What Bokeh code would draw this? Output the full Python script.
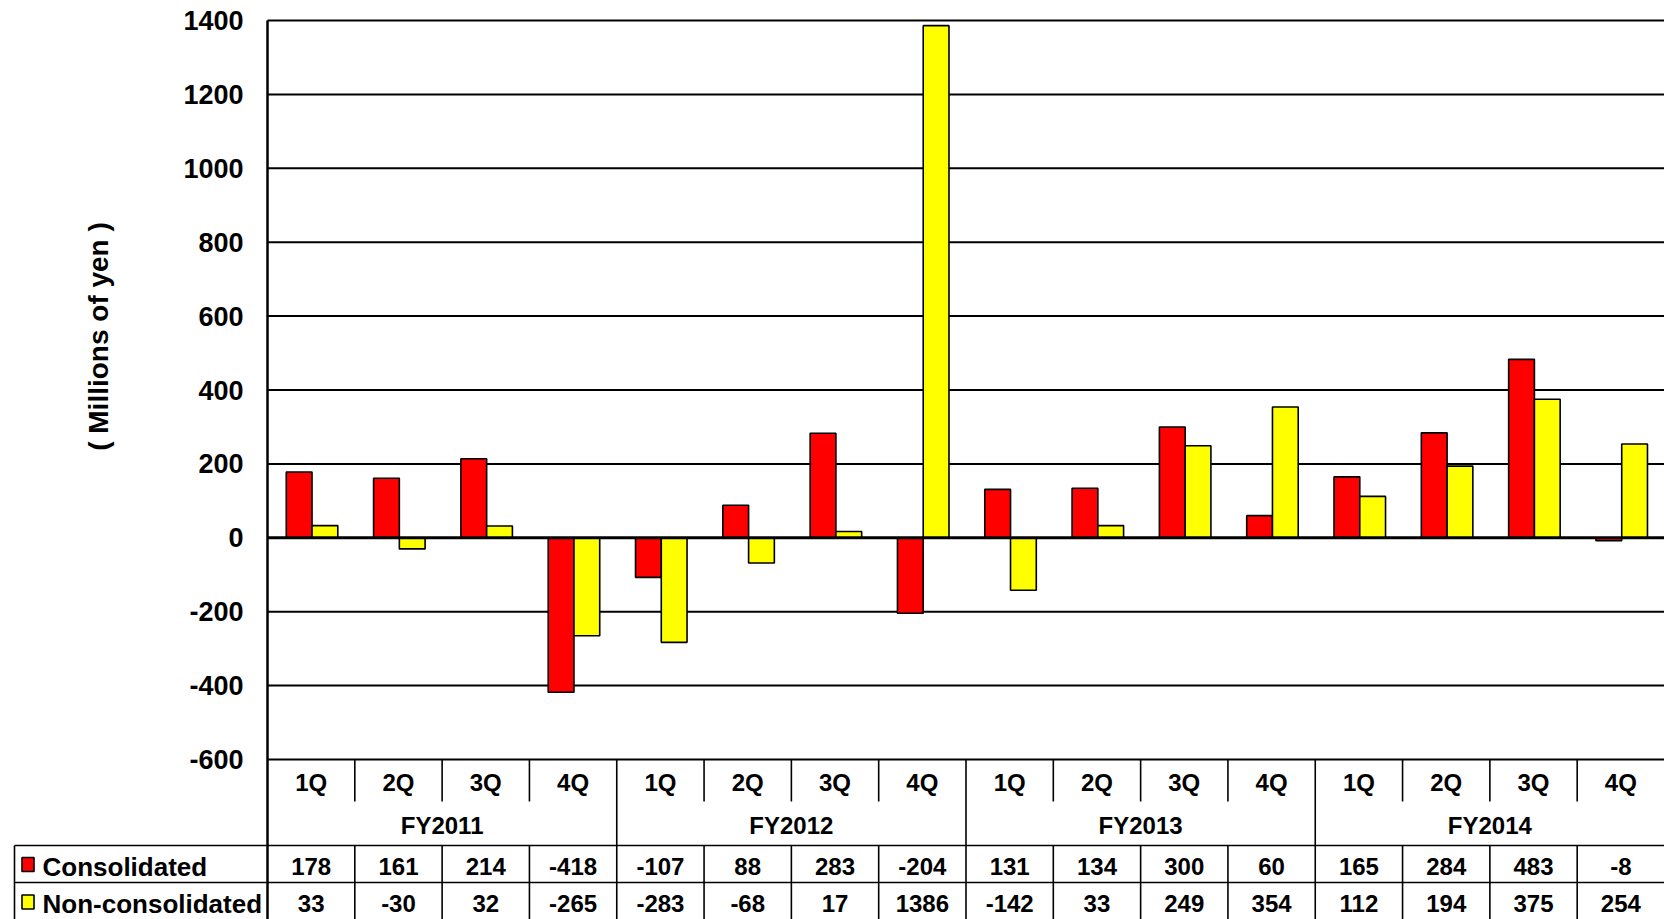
import numpy as np
from bokeh.plotting import figure
from bokeh.models import Range1d
from bokeh.core.properties import value
from bokeh.embed import file_html
from bokeh.resources import INLINE

# ---------------- data ----------------
years = ["FY2011", "FY2012", "FY2013", "FY2014"]
quarters = ["1Q", "2Q", "3Q", "4Q"]
consolidated = [178, 161, 214, -418, -107, 88, 283, -204, 131, 134, 300, 60, 165, 284, 483, -8]
non_consolidated = [33, -30, 32, -265, -283, -68, 17, 1386, -142, 33, 249, 354, 112, 194, 375, 254]
y_ticks = [1400, 1200, 1000, 800, 600, 400, 200, 0, -200, -400, -600]
series_names = ["Consolidated", "Non-consolidated"]
series_colors = ["#FF0000", "#FFFF00"]
y_label = "( Millions of yen )"

# ---------------- layout helpers (pixel -> data) ----------------
W, H = 1664, 919
PLOT_L, PLOT_T, PLOT_B = 267, 20, 759
YMAX, YMIN = max(y_ticks), min(y_ticks)
n = len(years) * len(quarters)
ppu_x = (W - PLOT_L) / n
ppu_y = (PLOT_B - PLOT_T) / (YMAX - YMIN)


def X(px):
    return (px - PLOT_L) / ppu_x


def Y(py):
    return YMAX - (py - PLOT_T) / ppu_y


FONT = value("Liberation Sans")

p = figure(width=W, height=H,
           x_range=Range1d(X(0), X(W)), y_range=Range1d(Y(H), Y(0)),
           x_axis_type=None, y_axis_type=None,
           toolbar_location=None, output_backend="svg",
           min_border=0, outline_line_color=None)
p.background_fill_color = "white"
p.border_fill_color = "white"

# ---------------- grid lines ----------------
grid = [t for t in y_ticks if t != 0]
p.segment(x0=[0] * len(grid), x1=[n] * len(grid), y0=grid, y1=grid,
          line_color="black", line_width=2)

# ---------------- bars ----------------
idx = np.arange(n)
bw = 0.295
p.vbar(x=idx + 0.51 - bw / 2, width=bw, top=consolidated, bottom=0,
       fill_color=series_colors[0], line_color="black", line_width=1.6)
p.vbar(x=idx + 0.51 + bw / 2, width=bw, top=non_consolidated, bottom=0,
       fill_color=series_colors[1], line_color="black", line_width=1.6)

# zero line
p.segment(x0=[0], x1=[n], y0=[0], y1=[0], line_color="black", line_width=3)

# left axis line (runs through the table)
p.segment(x0=[0], x1=[0], y0=[YMAX], y1=[Y(H)], line_color="black", line_width=2.5)

# ---------------- y tick labels & axis title ----------------
p.text(x=[X(243)] * len(y_ticks), y=y_ticks, text=[str(t) for t in y_ticks],
       text_font=FONT, text_font_style="bold", text_font_size="27px",
       text_align="right", text_baseline="middle", text_color="black")
p.text(x=[X(97.5)], y=[Y(336)], text=[y_label], angle=np.pi / 2,
       text_font=FONT, text_font_style="bold", text_font_size="28px",
       text_align="center", text_baseline="middle", text_color="black")

# ---------------- data table ----------------
row_q_bot = Y(801)
row_fy_bot = Y(845)
row_c_bot = Y(882)
bottom = Y(H)
left_col = X(14)

# quarter dividers
qdiv = [i for i in range(1, n) if i % 4 != 0]
p.segment(x0=qdiv, x1=qdiv, y0=[YMIN] * len(qdiv), y1=[row_q_bot] * len(qdiv),
          line_color="black", line_width=1.6)
p.segment(x0=qdiv, x1=qdiv, y0=[row_fy_bot] * len(qdiv), y1=[bottom] * len(qdiv),
          line_color="black", line_width=1.6)
# year dividers
ydiv = [4 * k for k in range(1, len(years))]
p.segment(x0=ydiv, x1=ydiv, y0=[YMIN] * len(ydiv), y1=[bottom] * len(ydiv),
          line_color="black", line_width=1.6)
# horizontal table lines
p.segment(x0=[left_col, left_col], x1=[n, n], y0=[row_fy_bot, row_c_bot],
          y1=[row_fy_bot, row_c_bot], line_color="black", line_width=1.6)
# left table border
p.segment(x0=[left_col], x1=[left_col], y0=[row_fy_bot], y1=[bottom],
          line_color="black", line_width=1.6)

qlabels = [q for _ in years for q in quarters]
p.text(x=idx + 0.5, y=[Y(782)] * n, text=qlabels,
       text_font=FONT, text_font_style="bold", text_font_size="24px",
       text_align="center", text_baseline="middle", text_color="black")
p.text(x=[4 * k + 2 for k in range(len(years))], y=[Y(825)] * len(years), text=years,
       text_font=FONT, text_font_style="bold", text_font_size="24px",
       text_align="center", text_baseline="middle", text_color="black")

row_y = [Y(866), Y(903)]
for vals, ry in zip([consolidated, non_consolidated], row_y):
    p.text(x=idx + 0.5, y=[ry] * n, text=[str(v) for v in vals],
           text_font=FONT, text_font_style="bold", text_font_size="24px",
           text_align="center", text_baseline="middle", text_color="black")

# legend squares and names
p.rect(x=[X(27.5)] * 2, y=[Y(864), Y(901.5)], width=12, height=14,
       width_units="screen", height_units="screen",
       fill_color=series_colors, line_color="black", line_width=1.6)
p.text(x=[X(42)] * 2, y=[Y(866), Y(903)], text=series_names,
       text_font=FONT, text_font_style="bold", text_font_size="26px",
       text_align="left", text_baseline="middle", text_color="black")

open("out.html", "w").write(file_html(p, INLINE))
